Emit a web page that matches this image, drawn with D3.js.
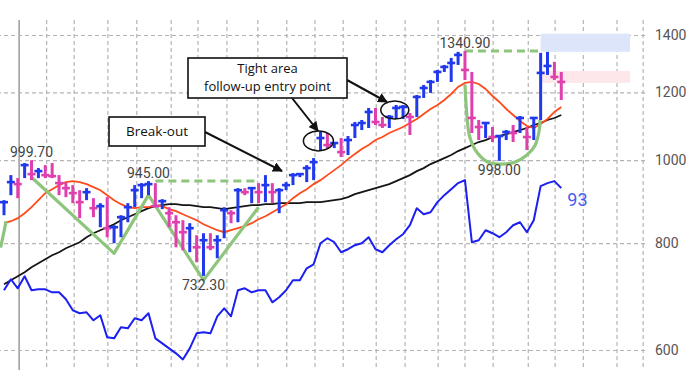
<!DOCTYPE html>
<html><head><meta charset="utf-8">
<script src="https://cdn.jsdelivr.net/npm/d3@7"></script>
<style>html,body{margin:0;padding:0;background:#fff;} svg{display:block;}</style>
</head><body><svg id="chart" width="688" height="382"></svg>
<script>
// ---------- DATA ----------
const highs = [897.8,960.4,952.7,992.0,999.7,978.7,986.6,992.0,960.4,942.5,
934.9,922.3,927.3,902.7,890.6,905.1,839.3,862.2,890.6,934.9,
939.9,945.0,939.9,900.2,881.0,862.2,850.7,843.9,817.0,821.4,
821.4,817.0,881.0,873.9,927.3,927.3,929.8,939.9,960.4,939.9,
927.3,942.5,965.6,965.6,986.6,1005.4,1078.4,1075.5,1049.8,1061.1,
1066.8,1108.0,1113.9,1150.5,1150.5,1123.0,1129.0,1159.8,1159.8,1135.1,
1191.4,1224.0,1240.6,1274.4,1291.7,1316.3,1337.9,1340.9,1267.6,1113.9,
1108.0,1093.1,1069.7,1084.2,1099.0,1126.0,1093.1,1123.0,1334.3,1337.9,
1302.3,1267.6];
const lows = [862.2,910.0,902.7,952.7,947.5,952.7,952.7,952.7,910.0,905.1,
890.6,855.3,897.8,857.6,834.8,812.6,799.6,812.6,846.1,881.0,
902.7,910.0,881.0,876.3,834.8,791.0,784.7,780.5,759.7,732.3,
784.7,768.0,810.4,843.9,846.1,910.0,890.6,890.6,893.0,890.6,
866.9,922.3,934.9,955.2,942.5,947.5,1027.3,1032.8,1032.8,1008.1,
1013.6,1061.1,1084.2,1090.1,1099.0,1090.1,1090.1,1117.0,1117.0,1069.7,
1123.0,1181.9,1198.0,1234.0,1267.6,1234.0,1291.7,1240.6,1075.5,1055.4,
1061.1,1049.8,998.0,1055.4,1049.8,1075.5,1027.3,1055.4,1113.9,1257.4,
1240.6,1175.5];
const closes = [893.0,942.5,937.4,986.6,963.0,970.8,960.4,957.8,940.0,927.3,
914.9,893.0,917.4,878.7,883.4,832.6,834.8,857.6,881.0,922.3,
934.9,937.4,883.4,895.4,866.9,846.1,823.7,832.6,791.0,806.1,
791.0,806.1,873.9,866.9,922.3,917.4,927.3,917.4,934.9,917.4,
922.3,934.9,960.4,963.0,978.7,994.6,1061.1,1041.3,1046.9,1021.8,
1055.4,1099.0,1104.9,1138.2,1108.0,1099.0,1123.0,1150.5,1153.6,1123.0,
1185.1,1214.1,1234.0,1267.6,1284.8,1298.6,1327.0,1274.4,1120.0,1093.1,
1104.9,1064.0,1066.8,1078.4,1075.5,1120.0,1064.0,1120.0,1264.2,1288.2,
1250.7,1234.0];
const maShort = [843.9,848.4,855.3,866.9,881.0,897.8,914.9,924.8,934.9,942.5,
945.0,942.5,937.4,929.8,922.3,910.0,897.8,888.2,881.0,878.7,
881.0,881.0,885.8,883.4,876.3,871.6,864.5,857.6,850.7,841.6,
834.8,828.1,823.7,828.1,832.6,837.1,843.9,853.0,859.9,869.2,
878.7,888.2,902.7,914.9,924.8,937.4,947.5,960.4,973.4,986.6,
1002.7,1016.3,1030.1,1041.3,1055.4,1063.9,1075.5,1084.2,1093.1,1104.9,
1116.9,1132.0,1147.4,1159.8,1175.5,1194.6,1217.4,1230.6,1234.0,1227.3,
1210.9,1188.2,1169.2,1147.4,1129.0,1110.9,1096.0,1090.1,1102.0,1116.9,
1138.2,1153.6];
const maLong = [716.0,723.8,731.6,739.5,749.6,757.7,765.9,774.2,780.5,788.9,
795.3,801.8,812.6,821.4,828.1,834.8,841.6,850.7,857.6,864.5,
871.6,878.7,883.4,885.8,888.2,888.2,885.8,885.8,883.4,881.0,
881.0,878.7,876.3,878.7,881.0,883.4,885.8,885.8,888.2,888.2,
890.6,890.6,890.6,890.6,893.0,893.0,893.0,895.4,897.8,900.2,
905.1,912.5,917.4,922.3,927.3,932.4,937.4,945.0,952.7,960.4,
970.8,978.7,989.3,997.3,1005.4,1013.6,1024.5,1032.8,1041.3,1049.8,
1055.4,1063.9,1066.8,1072.6,1078.4,1084.2,1090.1,1099.0,1104.9,1113.9,
1119.9,1129.0];
const rsLine = [704.5,725.8,708.3,731.6,704.5,706.4,706.4,700.7,700.7,687.7,
667.6,662.3,664.0,649.9,658.7,620.8,619.1,637.8,636.0,653.4,
649.9,662.3,619.1,610.8,602.6,594.6,585.0,602.6,627.5,629.3,
627.5,656.9,671.2,656.9,704.5,708.3,700.7,704.5,704.5,682.1,
691.4,704.5,723.8,723.8,747.5,755.6,799.6,810.4,801.8,780.5,
786.8,795.3,799.6,812.6,786.8,780.5,795.3,808.3,819.2,839.3,
878.7,864.5,869.2,893.0,910.0,924.8,940.0,947.5,801.8,806.1,
828.1,821.4,812.6,823.7,839.3,846.1,823.7,850.7,932.4,940.0,
945.0,927.3];
const rsRating = 93;
const yTicks = [600, 800, 1000, 1200, 1400];
const gridIdx = [2.2, 6.2, 10.2, 15.1, 19.3, 24.3, 28.2, 32.4, 36.9, 41.1, 45.2,
  49.3, 54.1, 58.3, 63.1, 67.0, 71.1, 76.2, 80.1, 84.2, 89.1, 92.9];
const majorGridIdx = [2.2];
const highLabelIdx = [4, 21, 67];
const lowLabelIdx = [29, 72];
const patternW = [[4, 955], [16, 778], [21, 910], [29, 724], [37, 881]];
const patternCup = [[67, 1224], [67.3, 1122], [67.7, 1064], [68.7, 1022], [70.3, 995],
  [72.4, 989], [74.3, 995], [76.0, 1014], [77.2, 1041], [77.8, 1084], [77.9, 1114]];
const patternLeft = [[0.3, 848], [0, 825], [-0.5, 790]];
const pivotLines = [{from: 22, to: 37, v: 945.0}, {from: 67, to: 78, v: 1340.9}];
const zones = [{from: 78, to: 91, lo: 1338, hi: 1405, kind: 'buy'},
               {from: 78, to: 91, lo: 1231, hi: 1271, kind: 'sell'}];
const ellipses = [{i: 45.7, v: 1053, rx: 15, ry: 10}, {i: 56.8, v: 1144, rx: 14, ry: 9}];

// ---------- CHART ----------
const svg = d3.select('#chart');
const W = 688, H = 382, plotRight = 645;
const x = d3.scaleLinear().domain([0, 81]).range([4, 4 + 81 * 6.88]);
const y = d3.scaleLog().domain([600, 1400]).range([350, 35]);

svg.append('rect').attr('width', W).attr('height', H).attr('fill', '#fff');
svg.append('defs').append('clipPath').attr('id', 'clip')
  .append('rect').attr('x', 0).attr('y', 0).attr('width', plotRight).attr('height', H);
const defs = svg.select('defs');
defs.append('marker').attr('id', 'arrow').attr('viewBox', '0 0 10 10')
  .attr('refX', 9).attr('refY', 5).attr('markerWidth', 5).attr('markerHeight', 5)
  .attr('orient', 'auto').append('path').attr('d', 'M0,0 L10,5 L0,10 z').attr('fill', '#111');

const gridColor = '#b4b4b4';
// vertical grid
svg.append('g').selectAll('line').data(gridIdx).join('line')
  .attr('x1', d => x(d)).attr('x2', d => x(d)).attr('y1', 20).attr('y2', 370)
  .attr('stroke', d => majorGridIdx.includes(d) ? '#9a9a9a' : gridColor)
  .attr('stroke-width', d => majorGridIdx.includes(d) ? 1.5 : 1.2)
  .attr('stroke-dasharray', d => majorGridIdx.includes(d) ? null : '4,3');

// y axis + horizontal grid
const yAxis = svg.append('g').attr('transform', `translate(${plotRight},0)`)
  .call(d3.axisRight(y).tickValues(yTicks).tickSize(-plotRight).tickPadding(10).tickFormat(d3.format('d')));
yAxis.select('.domain').remove();
yAxis.selectAll('line').attr('stroke', gridColor).attr('stroke-width', 1.2).attr('stroke-dasharray', '4,3');
yAxis.selectAll('text').attr('fill', '#555').style('font-family', 'Roboto, sans-serif').style('font-size', '14px');

const plot = svg.append('g').attr('clip-path', 'url(#clip)');

// zones
plot.selectAll('rect.zone').data(zones).join('rect')
  .attr('x', d => x(d.from)).attr('width', d => x(d.to) - x(d.from))
  .attr('y', d => y(d.hi)).attr('height', d => y(d.lo) - y(d.hi))
  .attr('fill', d => d.kind === 'buy' ? '#dde5fa' : '#fde7eb');

const idxLine = arr => d3.line().x((d, i) => x(i)).y(d => y(d))(arr);
// moving averages
plot.append('path').attr('d', idxLine(maLong)).attr('fill', 'none').attr('stroke', '#151515').attr('stroke-width', 1.8);
plot.append('path').attr('d', idxLine(maShort)).attr('fill', 'none').attr('stroke', '#ff4a1c').attr('stroke-width', 1.8);

// patterns
const green = '#8ec57c';
const pline = d3.line().x(d => x(d[0])).y(d => y(d[1]));
plot.append('path').attr('d', pline(patternW)).attr('fill', 'none').attr('stroke', green).attr('stroke-width', 3.2).attr('stroke-linejoin', 'round');
plot.append('path').attr('d', pline.curve(d3.curveCatmullRom.alpha(0.5))(patternCup)).attr('fill', 'none').attr('stroke', green).attr('stroke-width', 3.2);
plot.append('path').attr('d', pline.curve(d3.curveCatmullRom.alpha(0.5))(patternLeft)).attr('fill', 'none').attr('stroke', green).attr('stroke-width', 3.2);
plot.selectAll('line.pivot').data(pivotLines).join('line')
  .attr('x1', d => x(d.from)).attr('x2', d => x(d.to)).attr('y1', d => y(d.v)).attr('y2', d => y(d.v))
  .attr('stroke', green).attr('stroke-width', 3).attr('stroke-dasharray', '8,5');

// bars
const up = '#2139ec', down = '#e03fae';
const colorOf = i => (i === 0 || closes[i] >= closes[i - 1]) ? up : down;
const bars = plot.append('g').selectAll('g').data(d3.range(closes.length)).join('g');
bars.append('line').attr('x1', i => x(i)).attr('x2', i => x(i))
  .attr('y1', i => y(highs[i])).attr('y2', i => y(lows[i]))
  .attr('stroke', colorOf).attr('stroke-width', 3);
bars.append('line').attr('x1', i => x(i) - 4).attr('x2', i => x(i) + 4)
  .attr('y1', i => y(closes[i])).attr('y2', i => y(closes[i]))
  .attr('stroke', colorOf).attr('stroke-width', 2.6);

// RS line
plot.append('path').attr('d', idxLine(rsLine)).attr('fill', 'none').attr('stroke', '#1b1ff0').attr('stroke-width', 2).attr('stroke-linejoin', 'round');
svg.append('text').attr('x', x(rsLine.length - 1) + 6).attr('y', y(rsLine[rsLine.length - 1]) + 18)
  .text(rsRating).attr('fill', '#4a5af0').style('font-family', 'Roboto, sans-serif').style('font-size', '18px');

// price labels
const fmt = d3.format('.2f');
const lblStyle = s => s.attr('fill', '#444').attr('text-anchor', 'middle').style('font-family', 'Roboto, sans-serif').style('font-size', '14px');
svg.append('g').selectAll('text').data(highLabelIdx).join('text')
  .attr('x', i => x(i)).attr('y', i => y(highs[i]) - 3).text(i => fmt(highs[i])).call(lblStyle);
svg.append('g').selectAll('text').data(lowLabelIdx).join('text')
  .attr('x', i => x(i)).attr('y', i => y(lows[i]) + 14).text(i => fmt(lows[i])).call(lblStyle);

// ellipses
svg.append('g').selectAll('ellipse').data(ellipses).join('ellipse')
  .attr('cx', d => x(d.i)).attr('cy', d => y(d.v)).attr('rx', d => d.rx).attr('ry', d => d.ry)
  .attr('fill', 'none').attr('stroke', '#111').attr('stroke-width', 1.5);

// annotation boxes & arrows
const ann = svg.append('g');
const arrow = (x1, y1, x2, y2) => ann.append('line').attr('x1', x1).attr('y1', y1).attr('x2', x2).attr('y2', y2)
  .attr('stroke', '#111').attr('stroke-width', 2).attr('marker-end', 'url(#arrow)');
arrow(205, 132, 282, 171);
arrow(292, 98, 318, 131);
arrow(347, 80, 387, 102);
ann.append('rect').attr('x', 109).attr('y', 117).attr('width', 96).attr('height', 29)
  .attr('fill', '#fff').attr('stroke', '#111').attr('stroke-width', 1.6);
ann.append('rect').attr('x', 188).attr('y', 58).attr('width', 159).attr('height', 40)
  .attr('fill', '#fff').attr('stroke', '#111').attr('stroke-width', 1.6);
const annText = (tx, ty, s, fs) => ann.append('text').attr('x', tx).attr('y', ty).text(s)
  .attr('text-anchor', 'middle').attr('fill', '#111').style('font-family', '"Open Sans", sans-serif').style('font-size', fs);
annText(157, 136, 'Break-out', '13.5px');
annText(267.5, 73, 'Tight area', '13px');
annText(267.5, 91, 'follow-up entry point', '13px');
</script></body></html>
